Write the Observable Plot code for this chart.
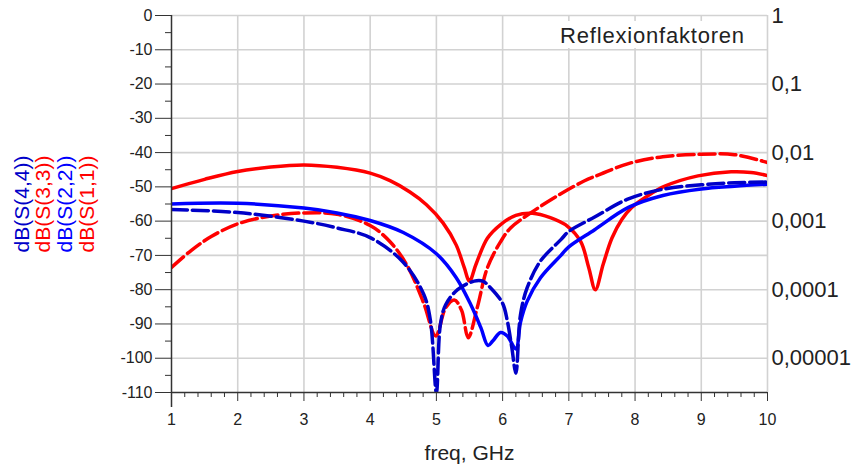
<!DOCTYPE html>
<html><head><meta charset="utf-8">
<script src="https://cdn.jsdelivr.net/npm/d3@7"></script>
<script src="https://cdn.jsdelivr.net/npm/@observablehq/plot@0.6"></script>
<style>
body{margin:0;background:#fff;}
#wrap{position:relative;width:855px;height:474px;font-family:"Liberation Sans",Arial,sans-serif;}
#legendbox{position:absolute;box-sizing:border-box;left:552px;top:21px;width:213px;height:27px;padding-right:12px;background:#fff;font-size:22px;letter-spacing:0.8px;line-height:29px;text-align:center;color:#222;}
</style></head><body><div id="wrap"></div>
<script>
// S(1,1) red solid
const f11 = [1.0,1.5,2.0,2.5,3.0,3.5,4.0,4.3,4.6,4.85,5.1,5.3,5.42,5.5,5.6,5.77,5.97,6.2,6.45,6.72,6.98,7.18,7.3,7.4,7.52,7.65,7.8,7.95,8.2,8.45,8.95,9.45,9.75,10.0];
const s11 = [-50.5,-47.8,-45.5,-44.2,-43.6,-44.3,-46,-48.2,-51.5,-55.2,-60.5,-67,-73.5,-77.5,-72.5,-65,-61,-58.3,-57.7,-59,-61.5,-66,-73.5,-80,-72.5,-65,-59.5,-56,-52.5,-49.8,-46.8,-45.6,-45.8,-46.7];
// S(2,2) blue solid
const f22 = [1.0,2.0,3.0,3.5,4.0,4.5,5.0,5.3,5.52,5.67,5.78,5.85,5.97,6.07,6.2,6.27,6.37,6.57,6.88,7.0,7.39,7.9,8.42,9.0,9.5,10.0];
const s22 = [-55,-54.8,-56.2,-57.6,-59.8,-63.3,-69.5,-76.5,-84.4,-91,-96.3,-95,-92.5,-93.5,-97.3,-89.5,-83.4,-76.6,-70,-67.5,-62.5,-56,-52.5,-50.6,-49.8,-49.2];
// S(3,3) red dashed
const f33 = [1.0,1.3,1.6,2.0,2.5,3.0,3.5,4.0,4.3,4.56,4.81,4.99,5.14,5.27,5.38,5.48,5.62,5.77,5.97,6.12,6.47,6.88,7.23,7.48,7.9,8.42,9.0,9.5,10.0];
const s33 = [-73.5,-68.5,-64.5,-60.8,-58.5,-57.6,-58,-61.3,-66,-73,-84,-93.5,-85.3,-83,-86,-94,-85,-73.6,-66,-62,-57,-52,-48.3,-46.3,-43.2,-41.2,-40.5,-40.6,-42.9];
// S(4,4) blue dashed
const f44 = [1.0,2.0,3.0,3.5,4.0,4.5,4.81,4.91,5.0,5.06,5.14,5.32,5.57,5.7,5.82,6.0,6.07,6.14,6.2,6.27,6.37,6.57,6.88,7.0,7.39,7.9,8.42,9.0,9.5,10.0];
const s44 = [-56.6,-57.5,-60,-62,-64.8,-72,-81.4,-89,-110,-90.2,-84.4,-80,-77.5,-77.5,-79.5,-84,-89,-97,-104.4,-87.3,-79.5,-71.7,-65.4,-63,-58.8,-53.5,-50.7,-49.4,-48.8,-48.6];

const seriesNames = ["dB(S(4,4))","dB(S(3,3))","dB(S(2,2))","dB(S(1,1))"];
const seriesColors = ["#0000c8","#ff0000","#0000ff","#ff0000"];
const xTicks = [1,2,3,4,5,6,7,8,9,10];
const yTicks = [0,-10,-20,-30,-40,-50,-60,-70,-80,-90,-100,-110];
const yMinor = [-5,-15,-25,-35,-45,-55,-65,-75,-85,-95,-105];
const rightTicks = [0,-20,-40,-60,-80,-100];
const rightLabels = ["1","0,1","0,01","0,001","0,0001","0,00001"];
const legendTitle = "Reflexionfaktoren";
const xTitle = "freq, GHz";

const toRows = (fs, vs) => fs.map((f, i) => ({f, v: vs[i]}));
const d11 = toRows(f11, s11), d22 = toRows(f22, s22), d33 = toRows(f33, s33), d44 = toRows(f44, s44);
const xMinor = d3.range(1, 10.001, 0.2).map(d => +d.toFixed(1)).filter(d => Math.abs(d - Math.round(d)) > 1e-6);

const gridStyle = {stroke: "#d2d2d2", strokeOpacity: 1, strokeWidth: 1.6};
const lineW = 3.5;

const chart = Plot.plot({
  width: 855, height: 474,
  marginLeft: 171, marginRight: 88, marginTop: 15, marginBottom: 82,
  style: {fontFamily: "'Liberation Sans', Arial, sans-serif", fontSize: "16px", background: "#fff", color: "#222"},
  x: {domain: [1, 10]},
  y: {domain: [-110, 0]},
  marks: [
    Plot.gridX([2,3,4,5,6,7,8,9,10], gridStyle),
    Plot.gridY([0,-10,-20,-30,-40,-50,-60,-70,-80,-90,-100], gridStyle),
    Plot.line(d11, {x: "f", y: "v", stroke: seriesColors[3], strokeWidth: lineW, curve: "catmull-rom", clip: true}),
    Plot.line(d33, {x: "f", y: "v", stroke: seriesColors[1], strokeWidth: lineW, strokeDasharray: "16,5", curve: "catmull-rom", clip: true}),
    Plot.line(d22, {x: "f", y: "v", stroke: seriesColors[2], strokeWidth: lineW, curve: "catmull-rom", clip: true}),
    Plot.line(d44, {x: "f", y: "v", stroke: seriesColors[0], strokeWidth: lineW, strokeDasharray: "16,5", curve: "catmull-rom", clip: true}),
    Plot.axisY({ticks: yTicks, tickSize: 16, tickPadding: 3, tickFormat: d => String(d), fontSize: 16, label: null, stroke: "#333"}),
    Plot.axisY({ticks: yMinor, tickSize: 6, text: null, label: null, stroke: "#333"}),
    Plot.axisY({anchor: "right", ticks: rightTicks, tickSize: 0, tickPadding: 4, fontSize: 22, tickFormat: d => rightLabels[rightTicks.indexOf(d)], label: null}),
    Plot.axisX({ticks: xTicks, tickSize: 9, tickPadding: 12, fontSize: 16, label: null, stroke: "#333"}),
    Plot.axisX({ticks: xMinor, tickSize: 5, text: null, label: null, stroke: "#333"}),
    Plot.ruleX([1], {stroke: "#333", strokeWidth: 1.5, insetBottom: -15}),
    Plot.ruleY([-110], {stroke: "#333", strokeWidth: 1.5}),
    Plot.text([xTitle], {frameAnchor: "bottom", dy: 67, fontSize: 21, fill: "#222"}),
    Plot.text([seriesNames[0]], {frameAnchor: "left", textAnchor: "middle", dx: -149, rotate: -90, fontSize: 21, fill: seriesColors[0]}),
    Plot.text([seriesNames[1]], {frameAnchor: "left", textAnchor: "middle", dx: -128, rotate: -90, fontSize: 21, fill: seriesColors[1]}),
    Plot.text([seriesNames[2]], {frameAnchor: "left", textAnchor: "middle", dx: -106, rotate: -90, fontSize: 21, fill: seriesColors[2]}),
    Plot.text([seriesNames[3]], {frameAnchor: "left", textAnchor: "middle", dx: -84, rotate: -90, fontSize: 21, fill: seriesColors[3]})
  ]
});
const wrap = document.getElementById("wrap");
wrap.appendChild(chart);
const lb = document.createElement("div");
lb.id = "legendbox";
lb.textContent = legendTitle;
wrap.appendChild(lb);
</script></body></html>
